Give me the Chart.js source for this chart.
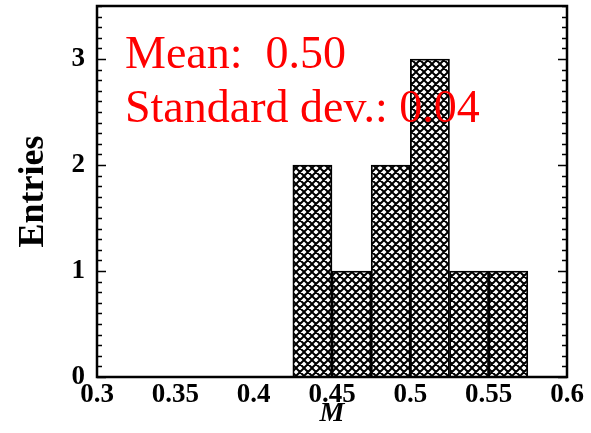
<!DOCTYPE html>
<html>
<head>
<meta charset="utf-8">
<script src="https://cdn.jsdelivr.net/npm/chart.js@4.4.1/dist/chart.umd.min.js"></script>
<style>
    html, body { margin: 0; padding: 0; background: #fff; }
    #wrap { width: 591px; height: 433px; }
</style>
</head>
<body>
<div id="wrap"><canvas id="histChart"></canvas></div>
<script>
// Histogram of M: bin edges and entries per bin
const binEdges = [0.425, 0.45, 0.475, 0.5, 0.525, 0.55, 0.575];
const entries = [2, 1, 2, 3, 1, 1];
const xTicks = [0.3, 0.35, 0.4, 0.45, 0.5, 0.55, 0.6];
const yTicks = [0, 1, 2, 3];
const statLines = ['Mean:  0.50', 'Standard dev.: 0.04'];

const binCenters = entries.map((_, i) => (binEdges[i] + binEdges[i + 1]) / 2);

// Cross-hatch fill for the bars
function makeHatch() {
    const p = 8;
    const c = document.createElement('canvas');
    c.width = p;
    c.height = p;
    const g = c.getContext('2d');
    g.fillStyle = '#fff';
    g.fillRect(0, 0, p, p);
    g.strokeStyle = '#000';
    g.lineWidth = 2;
    g.beginPath();
    for (let k = -1; k <= 2; k++) {
        // x - y = k*p
        g.moveTo(k * p - 2, -2);
        g.lineTo(k * p + p + 2, p + 2);
        // x + y = k*p
        g.moveTo(k * p + 2, -2);
        g.lineTo(k * p - p - 2, p + 2);
    }
    g.stroke();
    return g.createPattern(c, 'repeat');
}

// Frame, inward tick marks and the statistics box
const framePlugin = {
    id: 'frame',
    afterDraw(chart) {
        const { ctx, chartArea: a, scales: { y } } = chart;
        ctx.save();
        ctx.strokeStyle = '#000';
        ctx.lineWidth = 1.5;
        ctx.beginPath();
        for (let i = 0; i <= 35; i++) {
            const py = Math.round(y.getPixelForValue(i / 10)) + 0.5;
            const len = i % 10 === 0 ? 9 : 5;
            ctx.moveTo(a.left, py);
            ctx.lineTo(a.left + len, py);
            ctx.moveTo(a.right, py);
            ctx.lineTo(a.right - len, py);
        }
        ctx.stroke();

        ctx.lineWidth = 2.5;
        ctx.strokeRect(a.left, a.top, a.right - a.left, a.bottom - a.top);

        ctx.fillStyle = '#ff0000';
        ctx.font = '46px "Liberation Serif", "Times New Roman", serif';
        ctx.textBaseline = 'alphabetic';
        ctx.textAlign = 'left';
        statLines.forEach((t, i) => ctx.fillText(t, 125, 68 + i * 54));
        ctx.restore();
    }
};

const tickFont = { family: '"Liberation Serif", "Times New Roman", serif', size: 27, weight: 'bold' };

new Chart(document.getElementById('histChart'), {
    type: 'bar',
    data: {
        datasets: [{
            data: binCenters.map((x, i) => ({ x: x, y: entries[i] })),
            backgroundColor: makeHatch(),
            borderColor: '#000',
            borderWidth: 1.8,
            barPercentage: 1,
            categoryPercentage: 1
        }]
    },
    options: {
        responsive: true,
        maintainAspectRatio: false,
        animation: false,
        layout: { padding: { top: 6, right: 24, left: 0, bottom: 0 } },
        plugins: {
            legend: { display: false },
            tooltip: { enabled: false }
        },
        scales: {
            x: {
                type: 'linear',
                offset: false,
                min: 0.3,
                max: 0.6,
                afterBuildTicks: s => { s.ticks = xTicks.map(v => ({ value: v })); },
                afterFit: s => { s.height = 56; s.paddingLeft = 0; s.paddingRight = 0; },
                grid: { display: false, drawTicks: false },
                border: { display: false },
                ticks: {
                    color: '#000',
                    font: tickFont,
                    padding: 2,
                    maxRotation: 0,
                    autoSkip: false,
                    callback: v => String(v)
                },
                title: {
                    display: true,
                    text: 'M',
                    color: '#000',
                    font: { family: '"Liberation Serif", "Times New Roman", serif', size: 28, weight: 'bold', style: 'italic', lineHeight: 1.2 },
                    padding: { top: 0, bottom: 2 }
                }
            },
            y: {
                min: 0,
                max: 3.5,
                afterBuildTicks: s => { s.ticks = yTicks.map(v => ({ value: v })); },
                afterFit: s => { s.width = 97; s.paddingTop = 0; s.paddingBottom = 0; },
                grid: { display: false, drawTicks: false },
                border: { display: false },
                ticks: {
                    color: '#000',
                    font: tickFont,
                    padding: 12,
                    callback: v => String(v)
                },
                title: {
                    display: true,
                    text: 'Entries',
                    color: '#000',
                    font: { family: '"Liberation Serif", "Times New Roman", serif', size: 36, weight: 'bold', lineHeight: 1.2 },
                    padding: { top: 12, bottom: 0 }
                }
            }
        }
    },
    plugins: [framePlugin]
});
</script>
</body>
</html>
